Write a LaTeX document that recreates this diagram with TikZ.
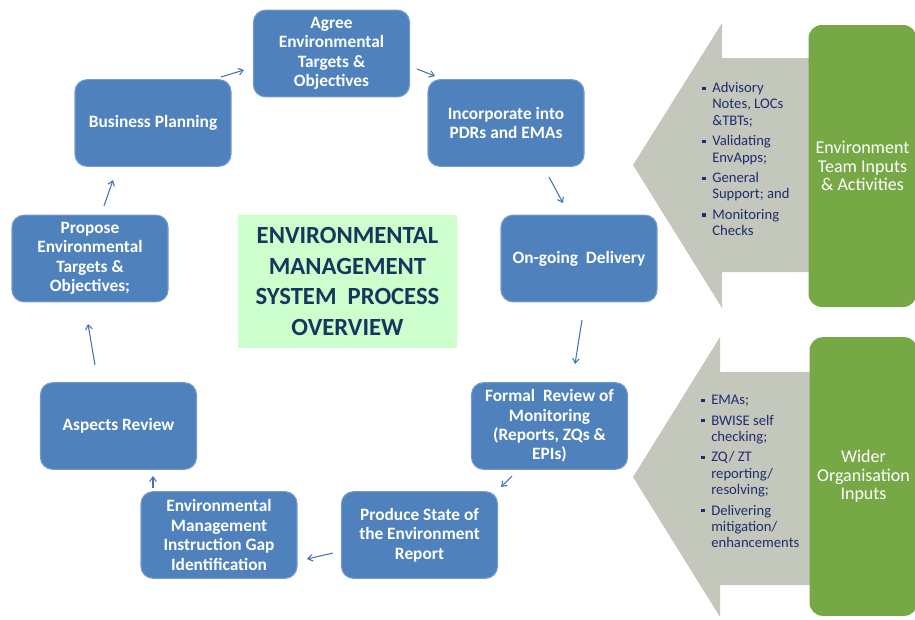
\documentclass[tikz,border=0pt]{standalone}
\usepackage{fontspec}
\setmainfont{Carlito}
\usetikzlibrary{arrows.meta}
\definecolor{boxblue}{RGB}{79,129,189}
\definecolor{boxedge}{RGB}{115,155,208}
\definecolor{titlegreen}{RGB}{204,255,204}
\definecolor{titletext}{RGB}{23,54,93}
\definecolor{sidegray}{RGB}{196,200,188}
\definecolor{sidegreen}{RGB}{119,168,70}
\definecolor{bullettext}{RGB}{31,45,110}
\definecolor{arrowblue}{RGB}{70,115,180}
\newcommand\mybul{\llap{\raisebox{2pt}{\rule{2.4pt}{2.4pt}}\hspace{5pt}}}
\begin{document}
\begin{tikzpicture}[x=0.75pt,y=-0.75pt,
  stepbox/.style={rectangle, rounded corners=9pt, fill=boxblue, draw=boxedge,
    line width=0.8pt, minimum width=117pt, minimum height=65pt, text=white,
    align=center, font=\fontsize{13}{14.6}\selectfont\bfseries, inner sep=2pt},
  sidebox/.style={rectangle, rounded corners=10pt, fill=sidegreen, draw=none,
    minimum width=81pt, text=white, align=center,
    font=\fontsize{13.5}{13.8}\selectfont},
  bullets/.style={anchor=north west, align=left, inner sep=0pt, text=bullettext,
    font=\fontsize{11}{12.3}\selectfont},
  flow/.style={draw=arrowblue, line width=0.8pt, -{Straight Barb[length=3.5pt,width=5pt]}}]
\useasboundingbox (0,0) rectangle (915,619);

% side arrows
\fill[sidegray] (633,165) -- (722,23) -- (722,58) -- (860,58) -- (860,272) -- (722,272) -- (722,308) -- cycle;
\fill[sidegray] (633,477) -- (720,337) -- (720,372) -- (860,372) -- (860,585) -- (720,585) -- (720,617) -- cycle;
\node[sidebox, minimum height=211.5pt] (team) at (862.5,166) {Environment\\Team Inputs\\\& Activities};
\node[sidebox, minimum height=209pt] (wider) at (863.5,476.5) {Wider\\Organisation\\Inputs};

\node[bullets] (teamlist) at (712,82) {\mybul Advisory\\Notes, LOCs\\\&TBTs;\\[3pt]
\mybul Validating\\EnvApps;\\[3pt]
\mybul General\\Support; and\\[3pt]
\mybul Monitoring\\Checks};
\node[bullets] (widerlist) at (711,395) {\mybul EMAs;\\[3pt]
\mybul BWISE self\\checking;\\[3pt]
\mybul ZQ/ ZT\\reporting/\\resolving;\\[3pt]
\mybul Delivering\\mitigation/\\enhancements};

% title
\node[fill=titlegreen, minimum width=164pt, minimum height=100pt, align=center,
  text=titletext, font=\fontsize{18.5}{23}\selectfont\bfseries] (title) at (347.5,281.5)
  {ENVIRONMENTAL\\MANAGEMENT\\SYSTEM\ \ PROCESS\\OVERVIEW};

% process boxes
\node[stepbox] (agree) at (331.5,53.5) {Agree\\Environmental\\Targets \&\\Objectives};
\node[stepbox] (bp) at (153,123) {Business Planning};
\node[stepbox] (inc) at (506,123) {Incorporate into\\PDRs and EMAs};
\node[stepbox] (prop) at (90,258.5) {Propose\\Environmental\\Targets \&\\Objectives;};
\node[stepbox] (ongo) at (579,258.5) {On-going\ \ Delivery};
\node[stepbox] (asp) at (118.5,426) {Aspects Review};
\node[stepbox] (formal) at (549.5,426) {Formal\ \ Review of\\Monitoring\\(Reports, ZQs \&\\EPIs)};
\node[stepbox] (emi) at (219,535) {Environmental\\Management\\Instruction Gap\\Identification};
\node[stepbox] (prod) at (419.5,535) {Produce State of\\the Environment\\Report};

% connector end points
\coordinate (a1) at (221,77);  \coordinate (b1) at (244,70);
\coordinate (a2) at (417,69);  \coordinate (b2) at (435,76);
\coordinate (a3) at (549,177); \coordinate (b3) at (563,203);
\coordinate (a4) at (582,320); \coordinate (b4) at (575,364);
\coordinate (a5) at (512,476); \coordinate (b5) at (501,487);
\coordinate (a6) at (333,553); \coordinate (b6) at (307,559);
\coordinate (a7) at (153,488); \coordinate (b7) at (153,476);
\coordinate (a8) at (95,365);  \coordinate (b8) at (88,324);
\coordinate (a9) at (104,206); \coordinate (b9) at (113,180);

\draw[flow] (a1) -- (b1);
\draw[flow] (a2) -- (b2);
\draw[flow] (a3) -- (b3);
\draw[flow] (a4) -- (b4);
\draw[flow] (a5) -- (b5);
\draw[flow] (a6) -- (b6);
\draw[flow] (a7) -- (b7);
\draw[flow] (a8) -- (b8);
\draw[flow] (a9) -- (b9);
\end{tikzpicture}
\end{document}
